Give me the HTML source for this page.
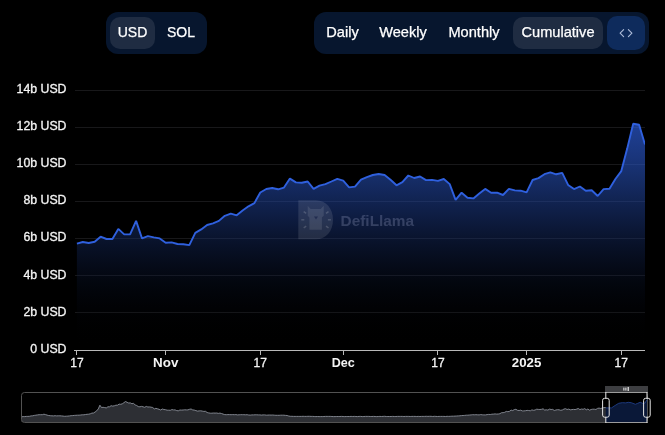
<!DOCTYPE html>
<html lang="en">
<head>
<meta charset="utf-8">
<title>DefiLlama chart</title>
<style>
html,body{margin:0;padding:0;background:#000;}
body{width:665px;height:435px;overflow:hidden;position:relative;font-family:"Liberation Sans",Arial,sans-serif;}
.grp{position:absolute;top:12px;height:42px;background:#07162e;border-radius:12px;}
.btn{position:absolute;top:5px;height:32px;line-height:31px;border-radius:10px;color:#fff;font-size:14px;text-align:center;white-space:nowrap;}
.btn.on{background:#1f2c42;}
.btn{-webkit-text-stroke:0.25px #fff;}
.btn.r{font-size:14.6px;}
.code{position:absolute;top:4px;left:293px;width:38px;height:34px;border-radius:10px;background:#0e2b5c;}
svg{position:absolute;left:0;top:0;}
svg text{font-family:"Liberation Sans",Arial,sans-serif;}
</style>
</head>
<body>
<div class="grp" style="left:106px;width:101px;">
  <div class="btn on" style="left:4px;width:45px;">USD</div>
  <div class="btn" style="left:53px;width:44px;">SOL</div>
</div>
<div class="grp" style="left:314px;width:335px;">
  <div class="btn r" style="left:4px;width:49px;">Daily</div>
  <div class="btn r" style="left:57px;width:64px;">Weekly</div>
  <div class="btn r" style="left:125px;width:70px;">Monthly</div>
  <div class="btn r on" style="left:199px;width:90px;">Cumulative</div>
  <div class="code"><svg width="38" height="34" viewBox="0 0 38 34"><g fill="none" stroke="#bccae6" stroke-width="1.15" stroke-opacity="0.9" stroke-linecap="round" stroke-linejoin="round"><polyline points="16.6,13.6 13.1,17.1 16.6,20.6"/><polyline points="21.4,13.6 24.9,17.1 21.4,20.6"/></g></svg></div>
</div>
<svg width="665" height="435" viewBox="0 0 665 435">
<defs>
<linearGradient id="ag" x1="0" y1="123" x2="0" y2="350" gradientUnits="userSpaceOnUse">
<stop offset="0.0000" stop-color="#2e5fdc" stop-opacity="0.680"/>
<stop offset="0.0500" stop-color="#2d5dd8" stop-opacity="0.654"/>
<stop offset="0.1000" stop-color="#2c5bd3" stop-opacity="0.628"/>
<stop offset="0.1500" stop-color="#2b58cd" stop-opacity="0.602"/>
<stop offset="0.2000" stop-color="#2955c4" stop-opacity="0.575"/>
<stop offset="0.2500" stop-color="#2751ba" stop-opacity="0.548"/>
<stop offset="0.3000" stop-color="#254caf" stop-opacity="0.520"/>
<stop offset="0.3500" stop-color="#2246a2" stop-opacity="0.492"/>
<stop offset="0.4000" stop-color="#1f4094" stop-opacity="0.464"/>
<stop offset="0.4500" stop-color="#1c3a86" stop-opacity="0.434"/>
<stop offset="0.5000" stop-color="#193376" stop-opacity="0.404"/>
<stop offset="0.5500" stop-color="#152c66" stop-opacity="0.374"/>
<stop offset="0.6000" stop-color="#122556" stop-opacity="0.342"/>
<stop offset="0.6500" stop-color="#0f1e46" stop-opacity="0.309"/>
<stop offset="0.7000" stop-color="#0b1836" stop-opacity="0.276"/>
<stop offset="0.7500" stop-color="#081128" stop-opacity="0.240"/>
<stop offset="0.8000" stop-color="#060c1c" stop-opacity="0.203"/>
<stop offset="0.8500" stop-color="#040711" stop-opacity="0.164"/>
<stop offset="0.9000" stop-color="#020408" stop-opacity="0.121"/>
<stop offset="0.9500" stop-color="#010103" stop-opacity="0.072"/>
<stop offset="1.0000" stop-color="#000000" stop-opacity="0.000"/>
</linearGradient>
<clipPath id="cp"><rect x="74" y="80" width="571" height="271"/></clipPath>
</defs>
<g stroke="#18181a" stroke-width="1" shape-rendering="crispEdges"><line x1="75" x2="645" y1="90.5" y2="90.5"/><line x1="75" x2="645" y1="127.5" y2="127.5"/><line x1="75" x2="645" y1="164.5" y2="164.5"/><line x1="75" x2="645" y1="201.5" y2="201.5"/><line x1="75" x2="645" y1="238.5" y2="238.5"/><line x1="75" x2="645" y1="275.5" y2="275.5"/><line x1="75" x2="645" y1="312.5" y2="312.5"/></g>
<g clip-path="url(#cp)"><path d="M76.9,350 L76.9,243.7 L82.8,242.0 L88.7,243.0 L94.7,241.8 L100.6,236.7 L106.5,239.0 L112.4,239.0 L118.3,228.9 L124.2,234.4 L130.2,234.2 L136.1,220.9 L142.0,238.4 L147.9,236.1 L153.8,237.4 L159.7,238.4 L165.7,242.8 L171.6,242.4 L177.5,244.0 L183.4,244.3 L189.3,245.1 L195.3,232.9 L201.2,229.4 L207.1,225.0 L213.0,223.3 L218.9,220.9 L224.8,215.8 L230.8,213.6 L236.7,215.3 L242.6,210.5 L248.5,206.3 L254.4,203.1 L260.3,192.5 L266.3,189.0 L272.2,188.0 L278.1,189.3 L284.0,187.6 L289.9,178.6 L295.9,182.4 L301.8,182.8 L307.7,181.5 L313.6,188.9 L319.5,185.7 L325.4,184.1 L331.4,181.5 L337.3,178.8 L343.2,180.7 L349.1,187.4 L355.0,186.6 L361.0,179.7 L366.9,177.1 L372.8,175.0 L378.7,174.0 L384.6,175.0 L390.5,179.7 L396.5,185.3 L402.4,182.2 L408.3,175.5 L414.2,178.0 L420.1,176.5 L426.0,180.1 L432.0,179.9 L437.9,180.9 L443.8,179.0 L449.7,184.1 L455.6,199.9 L461.6,192.7 L467.5,197.7 L473.4,198.4 L479.3,193.6 L485.2,188.9 L491.1,192.7 L497.1,192.7 L503.0,195.0 L508.9,188.9 L514.8,190.4 L520.7,190.7 L526.6,192.3 L532.6,180.0 L538.5,178.1 L544.4,174.2 L550.3,172.4 L556.2,174.3 L562.2,172.9 L568.1,184.9 L574.0,189.1 L579.9,186.5 L585.8,190.7 L591.7,190.3 L597.7,196.0 L603.6,189.1 L609.5,188.8 L615.4,179.0 L621.3,171.1 L627.2,148.6 L633.2,123.7 L639.1,124.8 L645.0,144.6 L645.0,350 Z" fill="url(#ag)"/>
<polyline points="76.9,243.7 82.8,242.0 88.7,243.0 94.7,241.8 100.6,236.7 106.5,239.0 112.4,239.0 118.3,228.9 124.2,234.4 130.2,234.2 136.1,220.9 142.0,238.4 147.9,236.1 153.8,237.4 159.7,238.4 165.7,242.8 171.6,242.4 177.5,244.0 183.4,244.3 189.3,245.1 195.3,232.9 201.2,229.4 207.1,225.0 213.0,223.3 218.9,220.9 224.8,215.8 230.8,213.6 236.7,215.3 242.6,210.5 248.5,206.3 254.4,203.1 260.3,192.5 266.3,189.0 272.2,188.0 278.1,189.3 284.0,187.6 289.9,178.6 295.9,182.4 301.8,182.8 307.7,181.5 313.6,188.9 319.5,185.7 325.4,184.1 331.4,181.5 337.3,178.8 343.2,180.7 349.1,187.4 355.0,186.6 361.0,179.7 366.9,177.1 372.8,175.0 378.7,174.0 384.6,175.0 390.5,179.7 396.5,185.3 402.4,182.2 408.3,175.5 414.2,178.0 420.1,176.5 426.0,180.1 432.0,179.9 437.9,180.9 443.8,179.0 449.7,184.1 455.6,199.9 461.6,192.7 467.5,197.7 473.4,198.4 479.3,193.6 485.2,188.9 491.1,192.7 497.1,192.7 503.0,195.0 508.9,188.9 514.8,190.4 520.7,190.7 526.6,192.3 532.6,180.0 538.5,178.1 544.4,174.2 550.3,172.4 556.2,174.3 562.2,172.9 568.1,184.9 574.0,189.1 579.9,186.5 585.8,190.7 591.7,190.3 597.7,196.0 603.6,189.1 609.5,188.8 615.4,179.0 621.3,171.1 627.2,148.6 633.2,123.7 639.1,124.8 645.0,144.6" fill="none" stroke="#2f60de" stroke-width="1.9" stroke-linejoin="bevel"/></g>
<g stroke="#b9b9b9" stroke-width="1" shape-rendering="crispEdges"><line x1="74" x2="645" y1="350.5" y2="350.5"/><line x1="76.5" x2="76.5" y1="350" y2="355"/><line x1="165.5" x2="165.5" y1="350" y2="355"/><line x1="260.5" x2="260.5" y1="350" y2="355"/><line x1="343.5" x2="343.5" y1="350" y2="355"/><line x1="437.5" x2="437.5" y1="350" y2="355"/><line x1="526.5" x2="526.5" y1="350" y2="355"/><line x1="621.5" x2="621.5" y1="350" y2="355"/></g>
<g fill="#f4f4f4" font-size="12.3" text-anchor="end" stroke="#f4f4f4" stroke-width="0.3"><text x="66.5" y="92.8">14b USD</text><text x="66.5" y="129.9">12b USD</text><text x="66.5" y="167.1">10b USD</text><text x="66.5" y="204.2">8b USD</text><text x="66.5" y="241.4">6b USD</text><text x="66.5" y="278.5">4b USD</text><text x="66.5" y="315.7">2b USD</text><text x="66.5" y="352.8">0 USD</text></g>
<g fill="#f4f4f4" font-size="12" text-anchor="middle"><text x="76.9" y="366.5" stroke="#f4f4f4" stroke-width="0.3">17</text><text x="165.7" y="366.5" font-weight="bold" textLength="25.3" lengthAdjust="spacingAndGlyphs">Nov</text><text x="260.3" y="366.5" stroke="#f4f4f4" stroke-width="0.3">17</text><text x="343.2" y="366.5" font-weight="bold" textLength="23.0" lengthAdjust="spacingAndGlyphs">Dec</text><text x="437.9" y="366.5" stroke="#f4f4f4" stroke-width="0.3">17</text><text x="526.6" y="366.5" font-weight="bold" textLength="29.5" lengthAdjust="spacingAndGlyphs">2025</text><text x="621.3" y="366.5" stroke="#f4f4f4" stroke-width="0.3">17</text></g>
<!-- watermark -->
<g opacity="1">
<path d="M298.3,200.2 H316 C326,200.2 333,208.5 333,219.7 C333,231 326,239.2 316,239.2 H298.3 Z" fill="#ffffff" fill-opacity="0.11"/>
<path d="M307.7,205.7 L310.7,208.9 H320.7 L323.7,205.7 V215.8 L321.9,217.6 V229.7 H309.4 V217.6 L307.7,215.8 Z" fill="#ffffff" fill-opacity="0.1"/>
<path d="M314,216.6 H318 L316,219.6 Z" fill="#0d1840" fill-opacity="0.55"/>
<g stroke="#ffffff" stroke-opacity="0.17" stroke-width="1.5"><line x1="326.0" y1="213.4" x2="328.5" y2="211.7"/><line x1="306.2" y1="213.4" x2="303.7" y2="211.7"/><line x1="304.3" y1="219.8" x2="301.3" y2="219.8"/><line x1="306.2" y1="226.2" x2="303.7" y2="227.9"/><line x1="326.0" y1="226.2" x2="328.5" y2="227.9"/><line x1="327.9" y1="219.8" x2="330.9" y2="219.8"/></g>
<text x="340.6" y="226.3" font-size="14.5" font-weight="bold" fill="#d5dcff" fill-opacity="0.2" textLength="73.5" lengthAdjust="spacingAndGlyphs">DefiLlama</text>
</g>
<!-- dataZoom slider -->
<path d="M21.5,422 L21.5,416.8 L23.1,416.6 L24.7,416.6 L26.3,416.4 L27.9,416.4 L29.5,416.3 L31.1,415.9 L32.7,415.8 L34.3,415.4 L35.9,415.2 L37.5,414.9 L39.1,414.7 L40.7,414.7 L42.3,414.7 L43.9,414.2 L45.5,414.6 L47.1,415.1 L48.7,415.5 L50.3,415.7 L51.9,415.8 L53.5,415.9 L55.1,415.7 L56.7,415.9 L58.3,415.8 L59.9,415.8 L61.5,415.9 L63.1,416.1 L64.7,416.3 L66.3,416.2 L67.9,416.1 L69.5,415.9 L71.1,415.7 L72.7,415.6 L74.3,415.4 L75.9,415.3 L77.5,415.2 L79.1,415.2 L80.7,415.0 L82.3,414.8 L83.9,414.8 L85.5,414.5 L87.1,414.3 L88.7,414.2 L90.3,413.8 L91.9,413.1 L93.5,413.0 L95.1,412.0 L96.7,410.8 L98.3,408.9 L99.9,405.2 L101.5,407.5 L103.1,407.3 L104.7,407.6 L106.3,407.9 L107.9,406.8 L109.5,406.8 L111.1,405.7 L112.7,406.1 L114.3,405.8 L115.9,405.2 L117.5,405.2 L119.1,404.1 L120.7,404.3 L122.3,403.8 L123.9,402.7 L125.5,401.5 L127.1,402.3 L128.7,403.0 L130.3,402.9 L131.9,403.7 L133.5,403.4 L135.1,404.9 L136.7,405.5 L138.3,406.6 L139.9,406.8 L141.5,406.4 L143.1,406.8 L144.7,407.3 L146.3,406.4 L147.9,407.0 L149.5,406.9 L151.1,407.2 L152.7,407.5 L154.3,408.9 L155.9,408.3 L157.5,408.8 L159.1,409.3 L160.7,410.0 L162.3,409.0 L163.9,409.5 L165.5,409.7 L167.1,410.2 L168.7,410.2 L170.3,410.3 L171.9,409.6 L173.5,409.9 L175.1,409.9 L176.7,410.6 L178.3,410.8 L179.9,410.0 L181.5,410.1 L183.1,410.0 L184.7,409.8 L186.3,409.9 L187.9,409.9 L189.5,409.3 L191.1,409.0 L192.7,409.9 L194.3,410.1 L195.9,410.6 L197.5,411.1 L199.1,410.9 L200.7,410.8 L202.3,411.1 L203.9,411.4 L205.5,411.3 L207.1,412.5 L208.7,412.9 L210.3,413.2 L211.9,413.2 L213.5,413.0 L215.1,413.1 L216.7,413.0 L218.3,413.4 L219.9,413.1 L221.5,413.5 L223.1,414.1 L224.7,414.6 L226.3,414.7 L227.9,414.6 L229.5,414.6 L231.1,414.7 L232.7,414.6 L234.3,414.7 L235.9,414.6 L237.5,414.9 L239.1,414.8 L240.7,414.7 L242.3,414.7 L243.9,414.7 L245.5,414.8 L247.1,414.7 L248.7,415.0 L250.3,415.1 L251.9,414.9 L253.5,414.9 L255.1,414.8 L256.7,414.8 L258.3,414.9 L259.9,414.9 L261.5,415.1 L263.1,414.9 L264.7,414.9 L266.3,415.2 L267.9,415.1 L269.5,415.0 L271.1,415.1 L272.7,415.0 L274.3,415.2 L275.9,415.3 L277.5,415.3 L279.1,415.3 L280.7,415.2 L282.3,415.2 L283.9,415.2 L285.5,415.4 L287.1,415.5 L288.7,416.0 L290.3,416.3 L291.9,416.3 L293.5,416.4 L295.1,416.4 L296.7,416.4 L298.3,416.4 L299.9,416.4 L301.5,416.4 L303.1,416.3 L304.7,416.4 L306.3,416.4 L307.9,416.3 L309.5,416.3 L311.1,416.4 L312.7,416.4 L314.3,416.5 L315.9,416.6 L317.5,416.5 L319.1,416.6 L320.7,416.6 L322.3,416.6 L323.9,416.5 L325.5,416.4 L327.1,416.4 L328.7,416.4 L330.3,416.4 L331.9,416.5 L333.5,416.6 L335.1,416.6 L336.7,416.5 L338.3,416.5 L339.9,416.5 L341.5,416.4 L343.1,416.5 L344.7,416.6 L346.3,416.5 L347.9,416.5 L349.5,416.5 L351.1,416.4 L352.7,416.5 L354.3,416.4 L355.9,416.5 L357.5,416.6 L359.1,416.4 L360.7,416.4 L362.3,416.6 L363.9,416.5 L365.5,416.4 L367.1,416.4 L368.7,416.4 L370.3,416.5 L371.9,416.5 L373.5,416.4 L375.1,416.5 L376.7,416.6 L378.3,416.5 L379.9,416.4 L381.5,416.5 L383.1,416.4 L384.7,416.3 L386.3,416.5 L387.9,416.5 L389.5,416.5 L391.1,416.5 L392.7,416.4 L394.3,416.5 L395.9,416.5 L397.5,416.4 L399.1,416.4 L400.7,416.4 L402.3,416.4 L403.9,416.5 L405.5,416.4 L407.1,416.4 L408.7,416.4 L410.3,416.5 L411.9,416.4 L413.5,416.4 L415.1,416.4 L416.7,416.5 L418.3,416.4 L419.9,416.5 L421.5,416.4 L423.1,416.4 L424.7,416.4 L426.3,416.3 L427.9,416.4 L429.5,416.3 L431.1,416.3 L432.7,416.5 L434.3,416.3 L435.9,416.4 L437.5,416.5 L439.1,416.4 L440.7,416.4 L442.3,416.4 L443.9,416.4 L445.5,416.5 L447.1,416.3 L448.7,416.4 L450.3,416.3 L451.9,416.2 L453.5,416.2 L455.1,416.1 L456.7,416.0 L458.3,415.9 L459.9,415.8 L461.5,415.6 L463.1,415.5 L464.7,415.4 L466.3,415.2 L467.9,415.2 L469.5,415.0 L471.1,414.9 L472.7,414.7 L474.3,414.8 L475.9,414.7 L477.5,414.8 L479.1,414.9 L480.7,414.6 L482.3,414.8 L483.9,414.9 L485.5,414.9 L487.1,414.6 L488.7,414.4 L490.3,414.5 L491.9,414.2 L493.5,414.1 L495.1,413.9 L496.7,414.1 L498.3,414.0 L499.9,413.7 L501.5,412.7 L503.1,412.7 L504.7,412.3 L506.3,411.4 L507.9,411.7 L509.5,411.3 L511.1,410.1 L512.7,410.6 L514.3,409.6 L515.9,409.3 L517.5,410.3 L519.1,410.5 L520.7,410.2 L522.3,410.9 L523.9,410.9 L525.5,410.7 L527.1,410.4 L528.7,410.5 L530.3,410.8 L531.9,409.9 L533.5,410.3 L535.1,410.0 L536.7,409.2 L538.3,409.4 L539.9,409.5 L541.5,409.3 L543.1,408.8 L544.7,410.1 L546.3,409.8 L547.9,410.1 L549.5,409.1 L551.1,409.5 L552.7,409.4 L554.3,410.5 L555.9,410.0 L557.5,409.7 L559.1,409.8 L560.7,410.3 L562.3,410.0 L563.9,409.1 L565.5,408.7 L567.1,409.5 L568.7,409.1 L570.3,409.8 L571.9,409.6 L573.5,409.4 L575.1,409.6 L576.7,409.1 L578.3,408.5 L579.9,409.6 L581.5,409.0 L583.1,409.3 L584.7,408.6 L586.3,409.8 L587.9,409.0 L589.5,410.2 L591.1,409.5 L592.7,409.2 L594.3,409.2 L595.9,409.5 L597.5,408.4 L599.1,408.1 L600.7,408.5 L602.3,408.0 L603.9,407.6 L605.5,407.5 L605.8,407.9 L611.5,407.9 L615.1,405.5 L618.7,403.3 L622.3,402.7 L625.8,402.9 L628.2,402.3 L631.2,402.7 L635.4,404.3 L637.8,403.3 L640.2,402.3 L642.6,403.3 L645.0,403.1 L647.0,399.5 L647,422 Z" fill="#2d2f34"/>
<polyline points="21.5,416.8 23.1,416.6 24.7,416.6 26.3,416.4 27.9,416.4 29.5,416.3 31.1,415.9 32.7,415.8 34.3,415.4 35.9,415.2 37.5,414.9 39.1,414.7 40.7,414.7 42.3,414.7 43.9,414.2 45.5,414.6 47.1,415.1 48.7,415.5 50.3,415.7 51.9,415.8 53.5,415.9 55.1,415.7 56.7,415.9 58.3,415.8 59.9,415.8 61.5,415.9 63.1,416.1 64.7,416.3 66.3,416.2 67.9,416.1 69.5,415.9 71.1,415.7 72.7,415.6 74.3,415.4 75.9,415.3 77.5,415.2 79.1,415.2 80.7,415.0 82.3,414.8 83.9,414.8 85.5,414.5 87.1,414.3 88.7,414.2 90.3,413.8 91.9,413.1 93.5,413.0 95.1,412.0 96.7,410.8 98.3,408.9 99.9,405.2 101.5,407.5 103.1,407.3 104.7,407.6 106.3,407.9 107.9,406.8 109.5,406.8 111.1,405.7 112.7,406.1 114.3,405.8 115.9,405.2 117.5,405.2 119.1,404.1 120.7,404.3 122.3,403.8 123.9,402.7 125.5,401.5 127.1,402.3 128.7,403.0 130.3,402.9 131.9,403.7 133.5,403.4 135.1,404.9 136.7,405.5 138.3,406.6 139.9,406.8 141.5,406.4 143.1,406.8 144.7,407.3 146.3,406.4 147.9,407.0 149.5,406.9 151.1,407.2 152.7,407.5 154.3,408.9 155.9,408.3 157.5,408.8 159.1,409.3 160.7,410.0 162.3,409.0 163.9,409.5 165.5,409.7 167.1,410.2 168.7,410.2 170.3,410.3 171.9,409.6 173.5,409.9 175.1,409.9 176.7,410.6 178.3,410.8 179.9,410.0 181.5,410.1 183.1,410.0 184.7,409.8 186.3,409.9 187.9,409.9 189.5,409.3 191.1,409.0 192.7,409.9 194.3,410.1 195.9,410.6 197.5,411.1 199.1,410.9 200.7,410.8 202.3,411.1 203.9,411.4 205.5,411.3 207.1,412.5 208.7,412.9 210.3,413.2 211.9,413.2 213.5,413.0 215.1,413.1 216.7,413.0 218.3,413.4 219.9,413.1 221.5,413.5 223.1,414.1 224.7,414.6 226.3,414.7 227.9,414.6 229.5,414.6 231.1,414.7 232.7,414.6 234.3,414.7 235.9,414.6 237.5,414.9 239.1,414.8 240.7,414.7 242.3,414.7 243.9,414.7 245.5,414.8 247.1,414.7 248.7,415.0 250.3,415.1 251.9,414.9 253.5,414.9 255.1,414.8 256.7,414.8 258.3,414.9 259.9,414.9 261.5,415.1 263.1,414.9 264.7,414.9 266.3,415.2 267.9,415.1 269.5,415.0 271.1,415.1 272.7,415.0 274.3,415.2 275.9,415.3 277.5,415.3 279.1,415.3 280.7,415.2 282.3,415.2 283.9,415.2 285.5,415.4 287.1,415.5 288.7,416.0 290.3,416.3 291.9,416.3 293.5,416.4 295.1,416.4 296.7,416.4 298.3,416.4 299.9,416.4 301.5,416.4 303.1,416.3 304.7,416.4 306.3,416.4 307.9,416.3 309.5,416.3 311.1,416.4 312.7,416.4 314.3,416.5 315.9,416.6 317.5,416.5 319.1,416.6 320.7,416.6 322.3,416.6 323.9,416.5 325.5,416.4 327.1,416.4 328.7,416.4 330.3,416.4 331.9,416.5 333.5,416.6 335.1,416.6 336.7,416.5 338.3,416.5 339.9,416.5 341.5,416.4 343.1,416.5 344.7,416.6 346.3,416.5 347.9,416.5 349.5,416.5 351.1,416.4 352.7,416.5 354.3,416.4 355.9,416.5 357.5,416.6 359.1,416.4 360.7,416.4 362.3,416.6 363.9,416.5 365.5,416.4 367.1,416.4 368.7,416.4 370.3,416.5 371.9,416.5 373.5,416.4 375.1,416.5 376.7,416.6 378.3,416.5 379.9,416.4 381.5,416.5 383.1,416.4 384.7,416.3 386.3,416.5 387.9,416.5 389.5,416.5 391.1,416.5 392.7,416.4 394.3,416.5 395.9,416.5 397.5,416.4 399.1,416.4 400.7,416.4 402.3,416.4 403.9,416.5 405.5,416.4 407.1,416.4 408.7,416.4 410.3,416.5 411.9,416.4 413.5,416.4 415.1,416.4 416.7,416.5 418.3,416.4 419.9,416.5 421.5,416.4 423.1,416.4 424.7,416.4 426.3,416.3 427.9,416.4 429.5,416.3 431.1,416.3 432.7,416.5 434.3,416.3 435.9,416.4 437.5,416.5 439.1,416.4 440.7,416.4 442.3,416.4 443.9,416.4 445.5,416.5 447.1,416.3 448.7,416.4 450.3,416.3 451.9,416.2 453.5,416.2 455.1,416.1 456.7,416.0 458.3,415.9 459.9,415.8 461.5,415.6 463.1,415.5 464.7,415.4 466.3,415.2 467.9,415.2 469.5,415.0 471.1,414.9 472.7,414.7 474.3,414.8 475.9,414.7 477.5,414.8 479.1,414.9 480.7,414.6 482.3,414.8 483.9,414.9 485.5,414.9 487.1,414.6 488.7,414.4 490.3,414.5 491.9,414.2 493.5,414.1 495.1,413.9 496.7,414.1 498.3,414.0 499.9,413.7 501.5,412.7 503.1,412.7 504.7,412.3 506.3,411.4 507.9,411.7 509.5,411.3 511.1,410.1 512.7,410.6 514.3,409.6 515.9,409.3 517.5,410.3 519.1,410.5 520.7,410.2 522.3,410.9 523.9,410.9 525.5,410.7 527.1,410.4 528.7,410.5 530.3,410.8 531.9,409.9 533.5,410.3 535.1,410.0 536.7,409.2 538.3,409.4 539.9,409.5 541.5,409.3 543.1,408.8 544.7,410.1 546.3,409.8 547.9,410.1 549.5,409.1 551.1,409.5 552.7,409.4 554.3,410.5 555.9,410.0 557.5,409.7 559.1,409.8 560.7,410.3 562.3,410.0 563.9,409.1 565.5,408.7 567.1,409.5 568.7,409.1 570.3,409.8 571.9,409.6 573.5,409.4 575.1,409.6 576.7,409.1 578.3,408.5 579.9,409.6 581.5,409.0 583.1,409.3 584.7,408.6 586.3,409.8 587.9,409.0 589.5,410.2 591.1,409.5 592.7,409.2 594.3,409.2 595.9,409.5 597.5,408.4 599.1,408.1 600.7,408.5 602.3,408.0 603.9,407.6 605.5,407.5 605.8,407.9 611.5,407.9 615.1,405.5 618.7,403.3 622.3,402.7 625.8,402.9 628.2,402.3 631.2,402.7 635.4,404.3 637.8,403.3 640.2,402.3 642.6,403.3 645.0,403.1 647.0,399.5" fill="none" stroke="#8b909a" stroke-width="0.9"/>
<rect x="21.5" y="392.5" width="626" height="30" rx="3" fill="none" stroke="#525252"/>
<rect x="606" y="393" width="41" height="29" fill="#000"/>
<path d="M605.8,422 L605.8,407.9 L611.5,407.9 L615.1,405.5 L618.7,403.3 L622.3,402.7 L625.8,402.9 L628.2,402.3 L631.2,402.7 L635.4,404.3 L637.8,403.3 L640.2,402.3 L642.6,403.3 L645.0,403.1 L647.0,399.5 L647,422 Z" fill="#0a1838"/>
<polyline points="605.8,407.9 611.5,407.9 615.1,405.5 618.7,403.3 622.3,402.7 625.8,402.9 628.2,402.3 631.2,402.7 635.4,404.3 637.8,403.3 640.2,402.3 642.6,403.3 645.0,403.1 647.0,399.5" fill="none" stroke="#1c397d" stroke-width="1"/>
<rect x="605" y="386" width="43" height="6" fill="#3d3e41"/>
<g fill="#f2f2f2"><rect x="623.4" y="387.6" width="1" height="3"/><rect x="625.4" y="387.6" width="1" height="3"/><rect x="627.6" y="387" width="1.2" height="4"/></g>
<g stroke="#9c9c9c" stroke-width="1" fill="none"><line x1="605.5" x2="647.5" y1="392.5" y2="392.5"/><line x1="605.5" x2="647.5" y1="422.5" y2="422.5"/></g>
<g fill="none" stroke="#e6e6e6" stroke-width="1"><path d="M605.8,392 V398.3 M605.8,417.2 V423"/><rect x="602.6" y="398.3" width="6.6" height="18.9" rx="2"/><path d="M647,392 V398.3 M647,417.2 V423"/><rect x="643.6" y="398.3" width="6.6" height="18.9" rx="2"/></g>
</svg>
</body>
</html>
